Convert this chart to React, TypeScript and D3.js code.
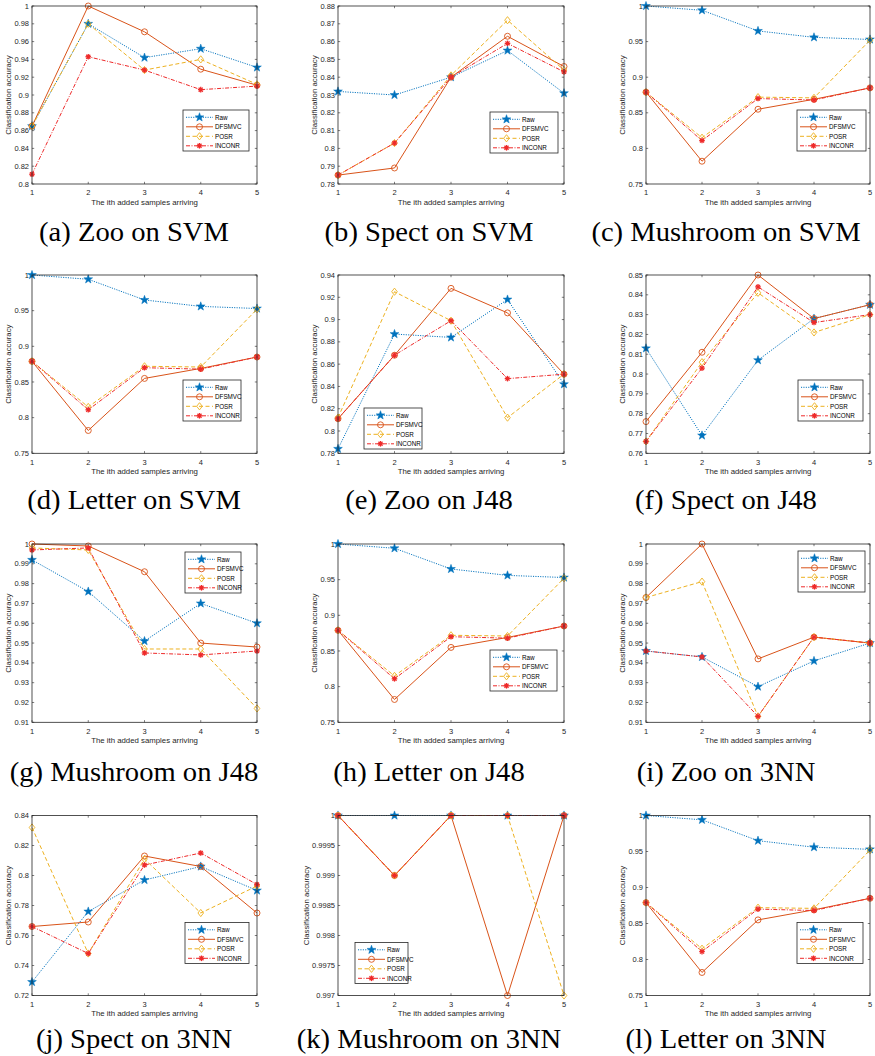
import React from "react";
import * as d3 from "d3";

const steps = [1, 2, 3, 4, 5];
const seriesNames = ["Raw", "DFSMVC", "POSR", "INCONR"];

// each panel: rows = Raw, DFSMVC, POSR, INCONR
const zooSVM = [
  [0.865, 0.980, 0.942, 0.952, 0.931],
  [0.865, 1.0, 0.971, 0.929, 0.911],
  [0.865, 0.980, 0.928, 0.940, 0.912],
  [0.811, 0.943, 0.928, 0.906, 0.910],
];
const spectSVM = [
  [0.832, 0.830, 0.840, 0.855, 0.831],
  [0.785, 0.789, 0.840, 0.863, 0.846],
  [0.785, 0.803, 0.841, 0.872, 0.844],
  [0.785, 0.803, 0.840, 0.859, 0.843],
];
const mushroomSVM = [
  [1.0, 0.994, 0.965, 0.956, 0.953],
  [0.879, 0.782, 0.855, 0.869, 0.885],
  [0.879, 0.815, 0.872, 0.871, 0.952],
  [0.879, 0.811, 0.870, 0.868, 0.885],
];
const letterSVM = [
  [1.0, 0.994, 0.965, 0.956, 0.953],
  [0.879, 0.782, 0.855, 0.869, 0.885],
  [0.879, 0.815, 0.872, 0.871, 0.952],
  [0.879, 0.811, 0.870, 0.868, 0.885],
];
const zooJ48 = [
  [0.784, 0.887, 0.884, 0.918, 0.842],
  [0.811, 0.868, 0.928, 0.906, 0.851],
  [0.812, 0.925, 0.899, 0.812, 0.851],
  [0.811, 0.868, 0.899, 0.847, 0.851],
];
const spectJ48 = [
  [0.813, 0.769, 0.807, 0.828, 0.835],
  [0.776, 0.811, 0.850, 0.828, 0.835],
  [0.766, 0.806, 0.841, 0.821, 0.830],
  [0.766, 0.803, 0.844, 0.826, 0.830],
];
const mushroomJ48 = [
  [0.992, 0.976, 0.951, 0.970, 0.960],
  [1.0, 0.999, 0.986, 0.950, 0.948],
  [0.998, 0.997, 0.947, 0.947, 0.917],
  [0.997, 0.998, 0.945, 0.944, 0.946],
];
const letterJ48 = [
  [1.0, 0.994, 0.965, 0.956, 0.953],
  [0.879, 0.782, 0.855, 0.869, 0.885],
  [0.879, 0.815, 0.872, 0.871, 0.952],
  [0.879, 0.811, 0.870, 0.868, 0.885],
];
const zoo3NN = [
  [0.946, 0.943, 0.928, 0.941, 0.950],
  [0.973, 1.0, 0.942, 0.953, 0.950],
  [0.973, 0.981, 0.913, 0.953, 0.950],
  [0.946, 0.943, 0.913, 0.953, 0.950],
];
const spect3NN = [
  [0.729, 0.776, 0.797, 0.806, 0.790],
  [0.766, 0.769, 0.813, 0.806, 0.775],
  [0.832, 0.748, 0.811, 0.775, 0.793],
  [0.766, 0.748, 0.807, 0.815, 0.794],
];
const mushroom3NN = [
  [1.0, 1.0, 1.0, 1.0, 1.0],
  [1.0, 0.999, 1.0, 0.997, 1.0],
  [1.0, 0.999, 1.0, 1.0, 0.997],
  [1.0, 0.999, 1.0, 1.0, 1.0],
];
const letter3NN = [
  [1.0, 0.994, 0.965, 0.956, 0.953],
  [0.879, 0.782, 0.855, 0.869, 0.885],
  [0.879, 0.815, 0.872, 0.871, 0.952],
  [0.879, 0.811, 0.870, 0.868, 0.885],
];

// y tick values
const ticks80to100 = [0.8, 0.82, 0.84, 0.86, 0.88, 0.9, 0.92, 0.94, 0.96, 0.98, 1];
const ticks78to88 = [0.78, 0.79, 0.8, 0.81, 0.82, 0.83, 0.84, 0.85, 0.86, 0.87, 0.88];
const ticks75to100 = [0.75, 0.8, 0.85, 0.9, 0.95, 1];
const ticks78to94 = [0.78, 0.8, 0.82, 0.84, 0.86, 0.88, 0.9, 0.92, 0.94];
const ticks76to85 = [0.76, 0.77, 0.78, 0.79, 0.8, 0.81, 0.82, 0.83, 0.84, 0.85];
const ticks91to100 = [0.91, 0.92, 0.93, 0.94, 0.95, 0.96, 0.97, 0.98, 0.99, 1];
const ticks72to84 = [0.72, 0.74, 0.76, 0.78, 0.8, 0.82, 0.84];
const ticks997to1 = [0.997, 0.9975, 0.998, 0.9985, 0.999, 0.9995, 1];

const captions = [
  "(a) Zoo on SVM", "(b) Spect on SVM", "(c) Mushroom on SVM",
  "(d) Letter on SVM", "(e) Zoo on J48", "(f) Spect on J48",
  "(g) Mushroom on J48", "(h) Letter on J48", "(i) Zoo on 3NN",
  "(j) Spect on 3NN", "(k) Mushroom on 3NN", "(l) Letter on 3NN",
];
const panelData = [zooSVM, spectSVM, mushroomSVM, letterSVM, zooJ48, spectJ48, mushroomJ48, letterJ48, zoo3NN, spect3NN, mushroom3NN, letter3NN];
const panelTicks = [ticks80to100, ticks78to88, ticks75to100, ticks75to100, ticks78to94, ticks76to85, ticks91to100, ticks75to100, ticks91to100, ticks72to84, ticks997to1, ticks75to100];

// layout (pixels)
const colLeft = [32, 338, 646];
const colWidth = [225, 226, 224];
const rowTop = [6, 275, 544, 815.5];
const rowHeight = [178, 178.3, 178.3, 180];
const capCenter = [134, 429, 726];
const capBase = [241, 509, 781, 1048];
// legend placement relative to plot box: [dx, dy, width]
const legendPos = [
  [151, 104, 66], [152, 106, 68], [151, 104, 69],
  [151, 105, 58], [26, 133, 58], [152, 105, 65],
  [153, 8, 56], [152, 106, 67], [152, 7, 67],
  [153, 107, 64], [17, 127, 53], [151, 107, 66],
];

const colors = ["#0072BD", "#D95319", "#EDB120", "#EE2A2A"];
const dashes = ["1.1,1.3", undefined, "4,2.5", "4,1.5,1,1.5"];
const axisColor = "#262626";
const sans = "'Liberation Sans', Arial, Helvetica, sans-serif";

function starPath(cx: number, cy: number, R: number) {
  const r = R * 0.4;
  const pts: string[] = [];
  for (let i = 0; i < 10; i++) {
    const a = -Math.PI / 2 + (i * Math.PI) / 5;
    const rad = i % 2 === 0 ? R : r;
    pts.push(`${cx + rad * Math.cos(a)},${cy + rad * Math.sin(a)}`);
  }
  return "M" + pts.join("L") + "Z";
}

function Marker({ s, cx, cy }: { s: number; cx: number; cy: number }) {
  const c = colors[s];
  if (s === 0) return <path d={starPath(cx, cy, 4.6)} fill={c} stroke={c} strokeWidth={0.5} />;
  if (s === 1) return <circle cx={cx} cy={cy} r={3} fill="none" stroke={c} strokeWidth={0.9} />;
  if (s === 2)
    return (
      <path d={`M${cx},${cy - 3.6}L${cx + 2.8},${cy}L${cx},${cy + 3.6}L${cx - 2.8},${cy}Z`} fill="none" stroke={c} strokeWidth={0.9} />
    );
  const r = 2.8;
  const d = r * 0.72;
  return (
    <g stroke={c} strokeWidth={1.3}>
      <line x1={cx - r} y1={cy} x2={cx + r} y2={cy} />
      <line x1={cx} y1={cy - r} x2={cx} y2={cy + r} />
      <line x1={cx - d} y1={cy - d} x2={cx + d} y2={cy + d} />
      <line x1={cx - d} y1={cy + d} x2={cx + d} y2={cy - d} />
      <circle cx={cx} cy={cy} r={1.4} fill={c} stroke="none" />
    </g>
  );
}

function fmt(v: number) {
  return String(+v.toFixed(4));
}

function Panel({ idx }: { idx: number }) {
  const col = idx % 3;
  const row = Math.floor(idx / 3);
  const left = colLeft[col];
  const width = colWidth[col];
  const top = rowTop[row];
  const height = rowHeight[row];
  const bottom = top + height;
  const right = left + width;
  const yTicks = panelTicks[idx];
  const data = panelData[idx];
  const x = d3.scaleLinear().domain([1, 5]).range([left, right]);
  const y = d3.scaleLinear().domain([yTicks[0], yTicks[yTicks.length - 1]]).range([bottom, top]);
  const line = d3
    .line<number>()
    .x((_, i) => x(steps[i]))
    .y((d) => y(d));
  const tl = 2.2;
  const maxLabel = d3.max(yTicks, (t) => fmt(t).length) || 4;
  const ylabX = left - 21 - Math.max(0, maxLabel - 4) * 3.8;
  const [ldx, ldy, lw] = legendPos[idx];
  const bx = left + ldx;
  const by = top + ldy;
  return (
    <g>
      <rect x={left} y={top} width={width} height={height} fill="#fff" />
      {yTicks.map((t) => (
        <g key={"y" + t}>
          <line x1={left} x2={left + tl} y1={y(t)} y2={y(t)} stroke={axisColor} strokeWidth={0.6} />
          <line x1={right} x2={right - tl} y1={y(t)} y2={y(t)} stroke={axisColor} strokeWidth={0.6} />
          <text x={left - 3} y={y(t)} dy="0.35em" textAnchor="end" fontFamily={sans} fontSize={7.5} fill={axisColor}>
            {fmt(t)}
          </text>
        </g>
      ))}
      {steps.map((s) => (
        <g key={"x" + s}>
          <line x1={x(s)} x2={x(s)} y1={bottom} y2={bottom - tl} stroke={axisColor} strokeWidth={0.6} />
          <line x1={x(s)} x2={x(s)} y1={top} y2={top + tl} stroke={axisColor} strokeWidth={0.6} />
          <text x={x(s)} y={bottom + 11.3} textAnchor="middle" fontFamily={sans} fontSize={7.5} fill={axisColor}>
            {s}
          </text>
        </g>
      ))}
      <text x={(left + right) / 2} y={bottom + 20.8} textAnchor="middle" fontFamily={sans} fontSize={7.8} fill={axisColor}>
        The ith added samples arriving
      </text>
      <text
        transform={`translate(${ylabX},${(top + bottom) / 2}) rotate(-90)`}
        textAnchor="middle"
        fontFamily={sans}
        fontSize={7.8}
        fill={axisColor}
      >
        Classification accuracy
      </text>
      {data.map((vals, s) => (
        <g key={"s" + s}>
          <path d={line(vals) || ""} fill="none" stroke={colors[s]} strokeWidth={1} strokeDasharray={dashes[s]} />
          {vals.map((v, i) => (
            <Marker key={i} s={s} cx={x(steps[i])} cy={y(v)} />
          ))}
        </g>
      ))}
      <rect x={left} y={top} width={width} height={height} fill="none" stroke={axisColor} strokeWidth={0.8} />
      <rect x={bx} y={by} width={lw} height={41} fill="#fff" stroke={axisColor} strokeWidth={0.8} />
      {seriesNames.map((n, s) => {
        const cy = by + 7.3 + s * 9.5;
        return (
          <g key={n}>
            <line x1={bx + 3} x2={bx + 30} y1={cy} y2={cy} stroke={colors[s]} strokeWidth={1} strokeDasharray={dashes[s]} />
            <Marker s={s} cx={bx + 16.5} cy={cy} />
            <text x={bx + 32} y={cy} dy="0.35em" fontFamily={sans} fontSize={6.3} fill="#000">
              {n}
            </text>
          </g>
        );
      })}
      <g transform={`translate(${capCenter[col]},${capBase[row]}) scale(1.04,1)`}>
        <text
          x={0}
          y={0}
          textAnchor="middle"
          fontFamily="'Liberation Serif', 'Times New Roman', serif"
          fontSize={27.5}
          fill="#000"
        >
          {captions[idx]}
        </text>
      </g>
    </g>
  );
}

export default function App() {
  return (
    <svg
      width={875}
      height={1056}
      viewBox="0 0 875 1056"
      style={{ position: "absolute", left: 0, top: 0, background: "#fff" }}
    >
      <rect x={0} y={0} width={875} height={1056} fill="#fff" />
      {panelData.map((_, i) => (
        <Panel key={i} idx={i} />
      ))}
    </svg>
  );
}
